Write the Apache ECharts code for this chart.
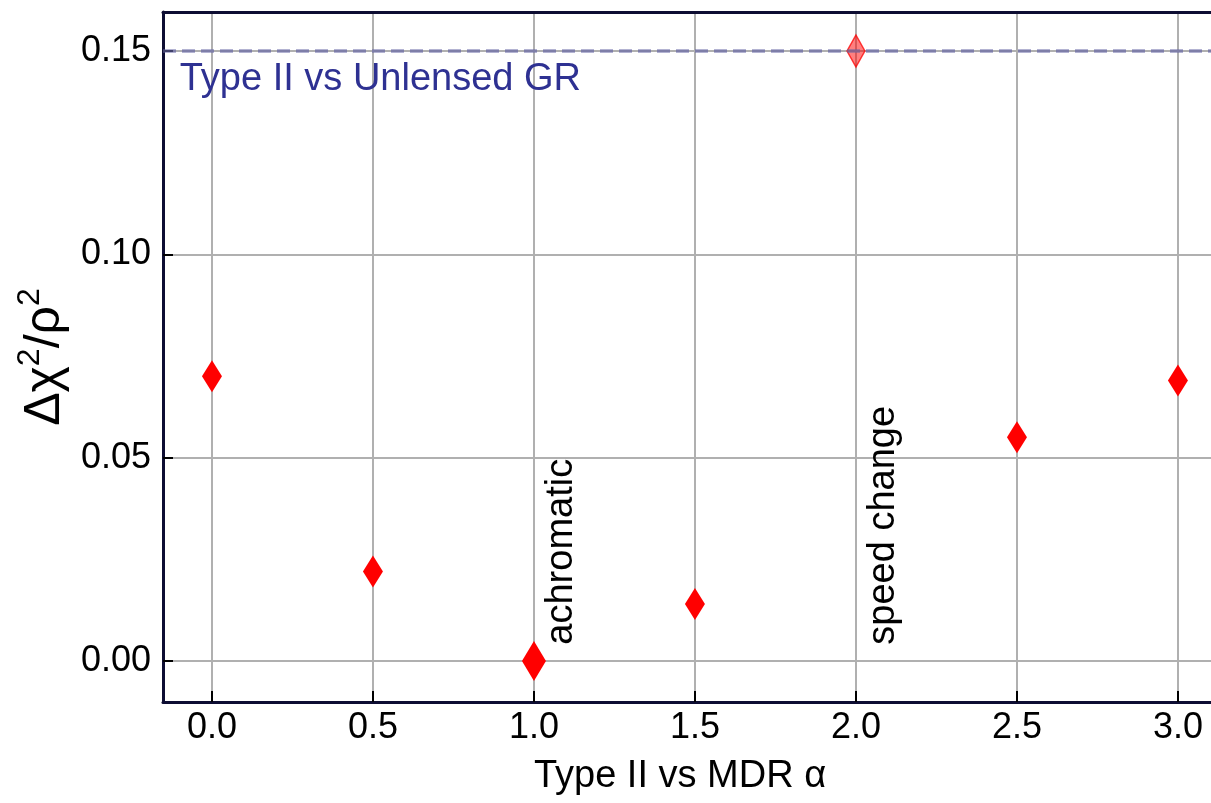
<!DOCTYPE html>
<html>
<head>
<meta charset="utf-8">
<script src="https://cdn.jsdelivr.net/npm/echarts@6/dist/echarts.min.js"></script>
<style>
  html, body { margin: 0; padding: 0; background: #fff; }
  #chart { width: 1211px; height: 803px; }
</style>
</head>
<body>
<div id="chart"></div>
<script>
// data
var alphas = [0.0, 0.5, 1.0, 1.5, 2.0, 2.5, 3.0];
var deltaChi = [0.070, 0.022, 0.0, 0.014, 0.150, 0.055, 0.069];
var achromaticIdx = 2;      // bigger marker
var speedChangeIdx = 4;     // faded marker
var unlensedGR = 0.15;      // dashed reference line
var notes = ['achromatic', 'speed change'];
var notesX = [1.0, 2.0];
var notesY = [0.004, 0.004];
var refLabel = 'Type II vs Unlensed GR';
var refLabelPos = [-0.1, 0.1429];

var font = "'Liberation Sans', Arial, Helvetica, sans-serif";
var frameColor = '#0d0d33';
var chart = echarts.init(document.getElementById('chart'));

var mainData = [];
var fadedData = [];
for (var i = 0; i < alphas.length; i++) {
    if (i === speedChangeIdx) {
        fadedData.push([alphas[i], deltaChi[i]]);
    } else if (i === achromaticIdx) {
        mainData.push({ value: [alphas[i], deltaChi[i]], symbolSize: [24, 40] });
    } else {
        mainData.push([alphas[i], deltaChi[i]]);
    }
}

var noteData = [];
for (var j = 0; j < notes.length; j++) {
    noteData.push({ value: [notesX[j], notesY[j]], name: notes[j] });
}

var option = {
    animation: false,
    backgroundColor: '#fff',
    textStyle: { fontFamily: font },
    grid: {
        left: 163,
        top: 12,
        width: 1080,
        height: 690,
        outerBoundsMode: 'none',
        containLabel: false,
        show: false
    },
    xAxis: [{
        type: 'value',
        min: -0.152,
        max: 3.202,
        splitNumber: 7,
        name: 'Type II vs MDR \u03b1',
        nameLocation: 'middle',
        nameGap: 56,
        nameTextStyle: { fontSize: 38, color: '#000', fontFamily: font, padding: [0, 46, 0, 0] },
        axisLine: { show: true, onZero: false, lineStyle: { color: frameColor, width: 3 } },
        axisTick: { show: true, inside: true, length: 11, lineStyle: { color: '#000', width: 2 } },
        axisLabel: {
            fontSize: 36, color: '#000', margin: 8, fontFamily: font,
            showMinLabel: false, showMaxLabel: false,
            formatter: function (v) { return v.toFixed(1); }
        },
        splitLine: { show: true, lineStyle: { color: '#b0b0b0', width: 2 } }
    }, {
        // top frame line only
        type: 'value',
        position: 'top',
        min: -0.152,
        max: 3.202,
        splitNumber: 7,
        axisLine: { show: true, onZero: false, lineStyle: { color: frameColor, width: 3 } },
        axisTick: { show: false },
        axisLabel: { show: false },
        splitLine: { show: false }
    }],
    yAxis: {
        type: 'value',
        min: -0.0101,
        max: 0.1596,
        splitNumber: 3,
        name: '{m|\u0394\u03c7}{s|2}{m|/\u03c1}{s|2}',
        nameLocation: 'middle',
        nameGap: 86,
        nameTextStyle: {
            color: '#000',
            fontFamily: font,
            rich: {
                m: { fontSize: 50, lineHeight: 56, fontFamily: font, color: '#000', verticalAlign: 'bottom' },
                s: { fontSize: 32, lineHeight: 56, fontFamily: font, color: '#000', verticalAlign: 'top' }
            }
        },
        axisLine: { show: true, onZero: false, lineStyle: { color: frameColor, width: 3 } },
        axisTick: { show: true, inside: true, length: 10, lineStyle: { color: '#000', width: 2 } },
        axisLabel: {
            fontSize: 36, color: '#000', margin: 12, fontFamily: font,
            showMinLabel: false, showMaxLabel: false,
            formatter: function (v) { return v.toFixed(2); }
        },
        splitLine: { show: true, lineStyle: { color: '#b0b0b0', width: 2 } }
    },
    series: [
        {
            type: 'scatter',
            z: 3,
            symbol: 'diamond',
            symbolSize: [20, 32],
            itemStyle: { color: '#ff0000', opacity: 1 },
            data: mainData,
            markLine: {
                silent: true,
                symbol: ['none', 'none'],
                label: { show: false },
                lineStyle: { color: 'rgba(100,100,165,0.65)', width: 3.5, type: [13, 6] },
                data: [{ yAxis: unlensedGR }]
            }
        },
        {
            type: 'scatter',
            z: 4,
            symbol: 'diamond',
            symbolSize: [18, 32],
            itemStyle: {
                color: 'rgba(255,0,0,0.5)',
                borderColor: 'rgba(255,0,0,0.75)',
                borderWidth: 1.5,
                opacity: 1
            },
            data: fadedData
        },
        {
            type: 'scatter',
            z: 5,
            symbolSize: 0,
            silent: true,
            itemStyle: { opacity: 1 },
            data: noteData,
            label: {
                show: true,
                position: [9, 0],
                rotate: 90,
                align: 'left',
                verticalAlign: 'top',
                fontSize: 38,
                color: '#000',
                opacity: 1,
                fontFamily: font,
                formatter: function (p) { return p.name; }
            }
        },
        {
            type: 'scatter',
            z: 5,
            symbolSize: 0,
            silent: true,
            itemStyle: { opacity: 1 },
            data: [{ value: refLabelPos, name: refLabel }],
            label: {
                show: true,
                position: [0, 0],
                align: 'left',
                verticalAlign: 'middle',
                fontSize: 38,
                color: '#2e3192',
                opacity: 1,
                fontFamily: font,
                formatter: function (p) { return p.name; }
            }
        }
    ]
};

chart.setOption(option);
</script>
</body>
</html>
